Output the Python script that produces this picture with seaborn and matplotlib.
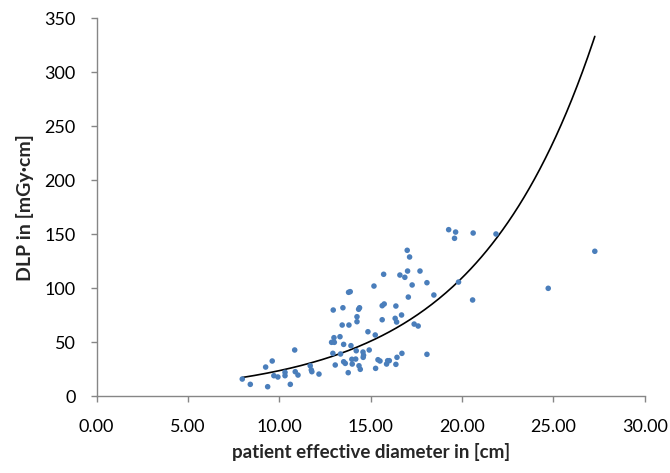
import matplotlib
matplotlib.use("Agg")
import matplotlib.pyplot as plt
import numpy as np
import pandas as pd
import seaborn as sns
from matplotlib.ticker import FormatStrFormatter, MultipleLocator

# patient effective diameter [cm]
diameter = [
    7.97, 8.41, 9.25, 9.61, 9.36, 9.70, 9.92, 10.31, 10.31, 10.60,
    10.84, 10.87, 11.02, 11.69, 11.75, 11.78, 12.17, 12.95, 13.48, 12.99,
    12.86, 13.01, 13.52, 13.44, 13.81, 13.79, 13.88, 12.93, 13.06, 13.32,
    13.52, 13.61, 13.77, 13.92, 13.97, 13.99, 14.18, 14.21, 14.36, 14.43,
    14.25, 14.25, 14.34, 14.39, 14.58, 14.61, 14.59, 14.85, 14.92, 15.18,
    15.25, 15.27, 15.40, 15.51, 15.71, 15.63, 15.74, 15.63, 15.87, 15.93,
    16.02, 16.38, 16.34, 16.42, 16.69, 16.38, 16.44, 16.71, 16.60, 16.87,
    17.00, 17.13, 17.02, 17.27, 17.06, 17.70, 18.08, 17.38, 17.60, 18.08,
    18.46, 19.27, 19.65, 19.59, 20.61, 21.86, 19.81, 20.58, 24.72, 27.27,
    13.35,
]
# DLP [mGy*cm]
dlp = [
    16.0, 11.1, 27.1, 32.7, 8.9, 19.1, 17.9, 22.2, 19.1, 11.1,
    42.9, 22.8, 19.7, 28.3, 24.4, 22.8, 20.6, 79.9, 82.0, 54.3,
    50.0, 50.0, 48.1, 66.0, 66.0, 96.3, 96.9, 39.8, 29.0, 55.2,
    32.0, 30.5, 21.9, 46.9, 34.3, 29.9, 34.5, 42.2, 28.3, 25.0,
    69.1, 73.7, 80.6, 82.0, 41.0, 38.0, 36.1, 59.8, 42.9, 102.1,
    56.8, 25.9, 33.9, 32.7, 113.0, 83.9, 85.5, 70.9, 29.9, 33.0,
    33.0, 83.6, 72.2, 68.8, 75.3, 29.6, 36.1, 39.8, 112.3, 110.2,
    135.2, 129.0, 116.0, 103.1, 91.9, 116.0, 105.2, 66.9, 65.1, 38.9,
    93.8, 154.3, 152.1, 146.3, 151.2, 150.3, 105.8, 89.2, 100.0, 134.3,
    39.2,
]

df = pd.DataFrame({"diameter": diameter, "dlp": dlp})

# exponential trendline, fitted the way Excel does (linear fit on ln y)
b, ln_a = np.polyfit(df["diameter"], np.log(df["dlp"]), 1)
trend_x = np.linspace(df["diameter"].min(), df["diameter"].max(), 200)
trend = pd.DataFrame({"diameter": trend_x, "dlp": np.exp(ln_a) * np.exp(b * trend_x)})

sns.set_theme(style="white")
plt.rcParams["font.family"] = ["Lato", "DejaVu Sans"]

fig = plt.figure(figsize=(6.7, 4.73), dpi=100)
ax = fig.add_axes([0.1443, 0.1621, 0.8179, 0.7992])

sns.scatterplot(data=df, x="diameter", y="dlp", ax=ax, color="#4a7ebb",
                s=16, edgecolor="none", zorder=3)
sns.lineplot(data=trend, x="diameter", y="dlp", ax=ax, color="black",
             linewidth=1.2, zorder=2)

ax.set_xlim(0, 30)
ax.set_ylim(0, 350)
ax.xaxis.set_major_locator(MultipleLocator(5))
ax.yaxis.set_major_locator(MultipleLocator(50))
ax.xaxis.set_major_formatter(FormatStrFormatter("%.2f"))

for side in ["top", "right"]:
    ax.spines[side].set_visible(False)
for side in ["left", "bottom"]:
    ax.spines[side].set_color("#868686")
    ax.spines[side].set_linewidth(1.0)

ax.tick_params(axis="both", direction="out", length=4.3, width=1.0,
               color="#868686", labelsize=13, labelcolor="black",
               left=True, bottom=True)
ax.tick_params(axis="x", pad=12)
ax.tick_params(axis="y", pad=11)

ax.set_xlabel("patient effective diameter in [cm]", fontsize=13.5,
              fontweight="bold", labelpad=6)
ax.set_ylabel("DLP in [mGy·cm]", fontsize=14, fontweight="bold", labelpad=7)

fig.savefig("out.png", dpi=100)
